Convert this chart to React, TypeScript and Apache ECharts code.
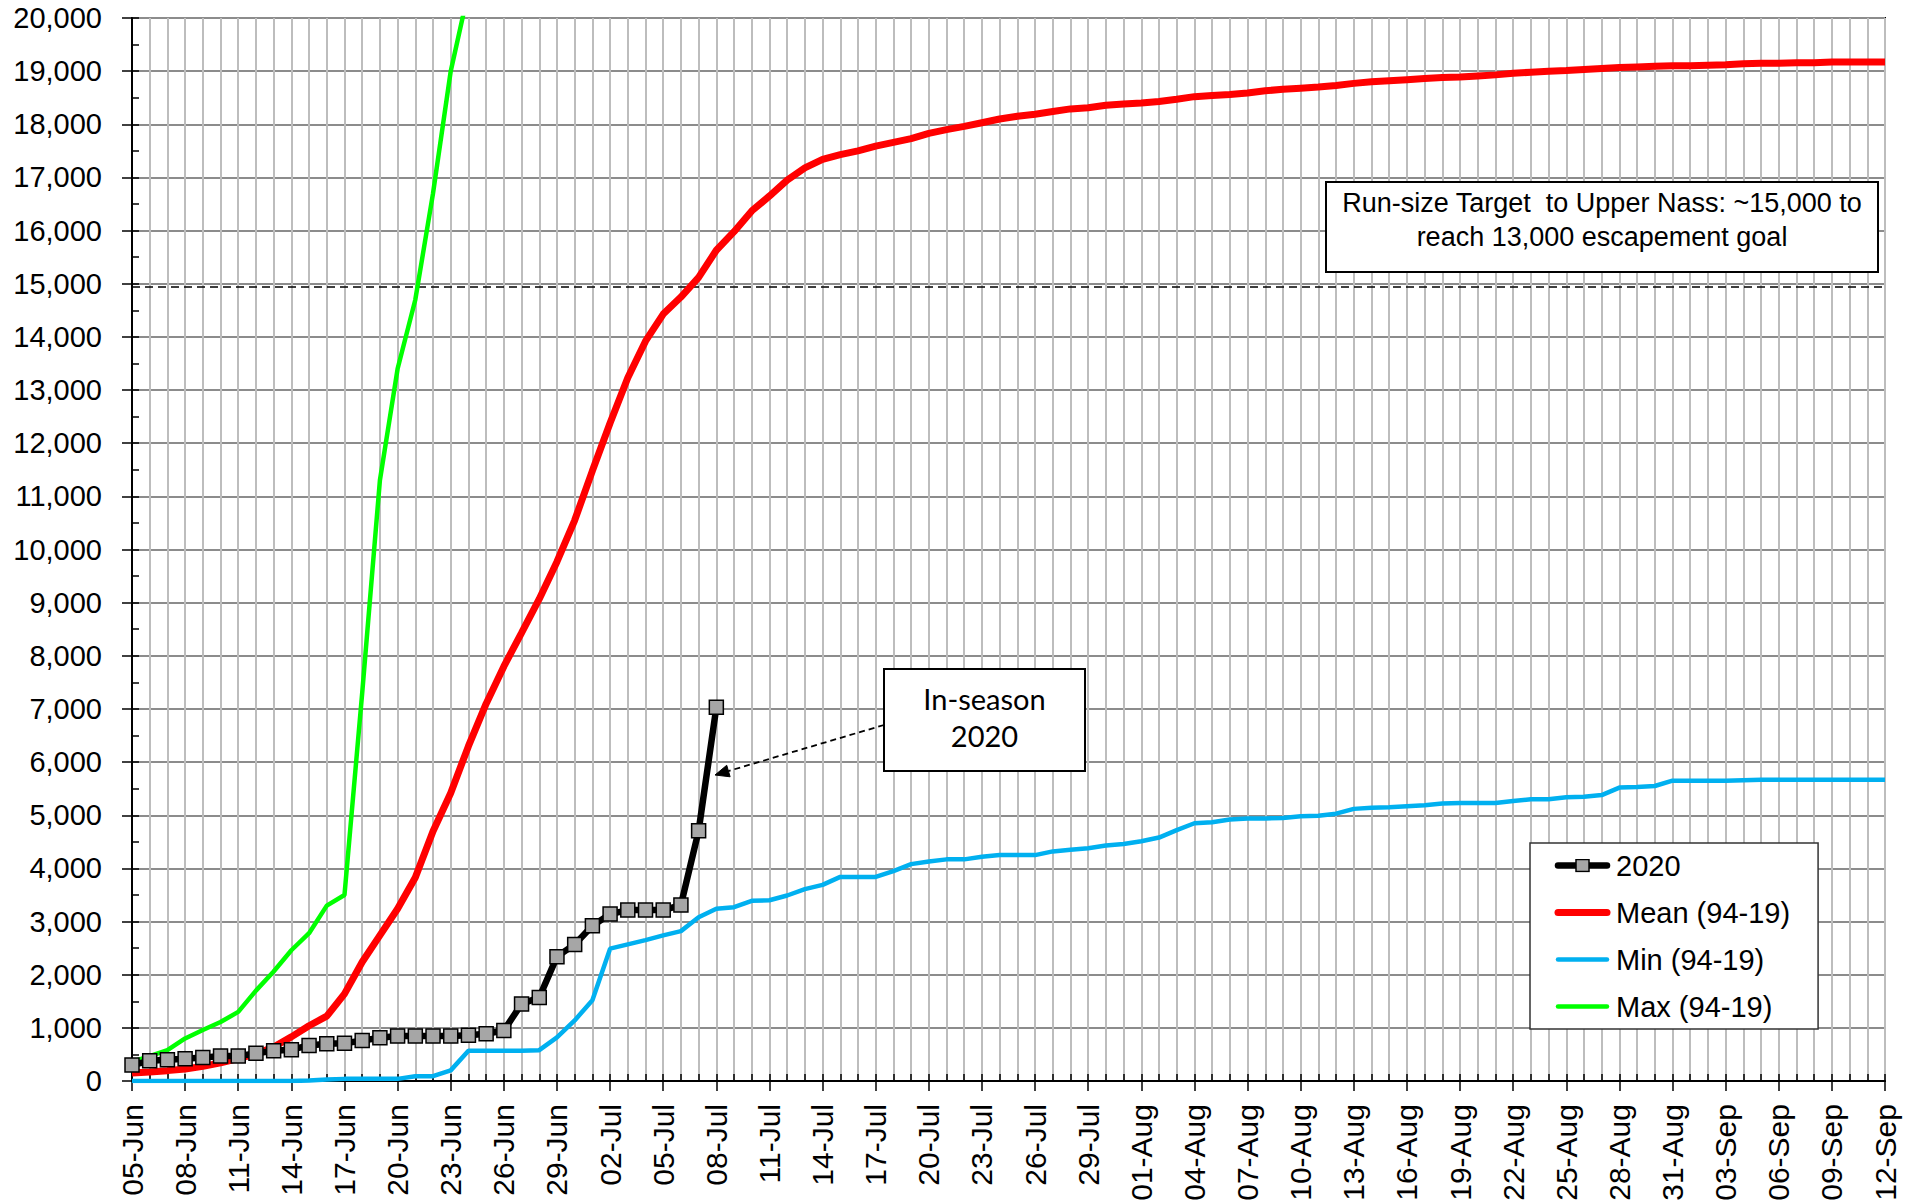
import React, { useEffect, useRef } from "react";
import * as echarts from "echarts";

const dates = [
  "05-Jun","06-Jun","07-Jun","08-Jun","09-Jun","10-Jun","11-Jun","12-Jun","13-Jun","14-Jun",
  "15-Jun","16-Jun","17-Jun","18-Jun","19-Jun","20-Jun","21-Jun","22-Jun","23-Jun","24-Jun",
  "25-Jun","26-Jun","27-Jun","28-Jun","29-Jun","30-Jun",
  "01-Jul","02-Jul","03-Jul","04-Jul","05-Jul","06-Jul","07-Jul","08-Jul","09-Jul","10-Jul",
  "11-Jul","12-Jul","13-Jul","14-Jul","15-Jul","16-Jul","17-Jul","18-Jul","19-Jul","20-Jul",
  "21-Jul","22-Jul","23-Jul","24-Jul","25-Jul","26-Jul","27-Jul","28-Jul","29-Jul","30-Jul","31-Jul",
  "01-Aug","02-Aug","03-Aug","04-Aug","05-Aug","06-Aug","07-Aug","08-Aug","09-Aug","10-Aug",
  "11-Aug","12-Aug","13-Aug","14-Aug","15-Aug","16-Aug","17-Aug","18-Aug","19-Aug","20-Aug",
  "21-Aug","22-Aug","23-Aug","24-Aug","25-Aug","26-Aug","27-Aug","28-Aug","29-Aug","30-Aug","31-Aug",
  "01-Sep","02-Sep","03-Sep","04-Sep","05-Sep","06-Sep","07-Sep","08-Sep","09-Sep","10-Sep",
  "11-Sep","12-Sep"
];

const season2020 = [
  300, 380, 400, 420, 440, 470, 470, 520, 570, 590,
  670, 700, 710, 760, 815, 845, 845, 845, 845, 860,
  890, 950, 1450, 1570, 2340, 2570, 2920, 3140, 3215, 3215,
  3215, 3310, 4710, 7030
];

const mean9419 = [
  150, 170, 195, 225, 275, 340, 420, 510, 640, 830,
  1040, 1220, 1640, 2240, 2740, 3240, 3830, 4700, 5420, 6300,
  7100, 7800, 8430, 9070, 9770, 10550, 11480, 12380, 13230, 13920,
  14430, 14750, 15120, 15630, 15980, 16370, 16650, 16950, 17180, 17340,
  17430, 17500, 17590, 17660, 17730, 17830, 17900, 17960, 18030, 18100,
  18150, 18190, 18240, 18290, 18310, 18360, 18380, 18400, 18430, 18470,
  18520, 18540, 18560, 18590, 18630, 18660, 18680, 18700, 18730, 18770,
  18800, 18820, 18840, 18860, 18880, 18890, 18910, 18930, 18960, 18980,
  19000, 19010, 19030, 19050, 19070, 19080, 19090, 19100, 19100, 19110,
  19120, 19140, 19150, 19150, 19160, 19160, 19170, 19170, 19170, 19170
];

const min9419 = [
  0, 0, 0, 0, 0, 0, 0, 0, 0, 0,
  10, 30, 40, 40, 40, 40, 90, 90, 200, 570,
  570, 570, 570, 580, 820, 1140, 1520, 2490, 2570, 2650,
  2740, 2820, 3080, 3240, 3270, 3390, 3400, 3490, 3610, 3690,
  3840, 3840, 3840, 3950, 4080, 4130, 4170, 4170, 4220, 4250,
  4250, 4250, 4320, 4350, 4380, 4430, 4460, 4510, 4580, 4720,
  4850, 4870, 4920, 4940, 4940, 4950, 4980, 4990, 5030, 5120,
  5140, 5150, 5170, 5190, 5220, 5230, 5230, 5230, 5270, 5300,
  5300, 5340, 5350, 5380, 5520, 5530, 5550, 5650, 5650, 5650,
  5650, 5660, 5670, 5670, 5670, 5670, 5670, 5670, 5670, 5670
];

const max9419 = [
  360, 470, 580, 800, 960, 1110, 1300, 1700, 2060, 2460,
  2780, 3300, 3500, 7300, 11300, 13400, 14700, 16700, 19000, 20500
];

const seriesNames = ["2020", "Mean (94-19)", "Min (94-19)", "Max (94-19)"];
const seriesColors = ["#000000", "#ff0000", "#00b0f0", "#00ff00"];
const seriesWidths = [6.5, 7, 4.5, 4.5];
const targetLine = 14950;
const yMin = 0;
const yMax = 20000;
const yStep = 1000;
const yMinorStep = 500;

const FONT = '"Liberation Sans", Arial, sans-serif';

const W = 1923;
const H = 1204;
const G_LEFT = 132;
const G_RIGHT = 38;
const G_TOP = 18;
const G_BOTTOM = 123;
const GW = W - G_LEFT - G_RIGHT;
const GH = H - G_TOP - G_BOTTOM;

function legendIcon(idx: number): string {
  const c = seriesColors[idx];
  const w = seriesWidths[idx];
  let svg =
    "<svg xmlns='http://www.w3.org/2000/svg' width='57' height='14' viewBox='0 0 57 14'>" +
    "<line x1='4' y1='7' x2='53' y2='7' stroke='" + c + "' stroke-width='" + w + "' stroke-linecap='round'/>";
  if (idx === 0) {
    svg += "<rect x='22' y='1' width='13' height='12' fill='#a6a6a6' stroke='#000' stroke-width='1.5'/>";
  }
  svg += "</svg>";
  return "image://data:image/svg+xml;charset=utf-8," + encodeURIComponent(svg);
}

export default function App() {
  const ref = useRef<HTMLDivElement>(null);

  useEffect(() => {
    if (!ref.current) return;
    const chart = echarts.init(ref.current, undefined, { renderer: "svg" });

    const tip = [715, 775];
    const start = [884, 725];
    const dx = tip[0] - start[0];
    const dy = tip[1] - start[1];
    const len = Math.sqrt(dx * dx + dy * dy);
    const ux = dx / len;
    const uy = dy / len;
    const hl = 14;
    const hw = 6;
    const bx = tip[0] - ux * hl;
    const by = tip[1] - uy * hl;

    const option: any = {
      animation: false,
      backgroundColor: "#ffffff",
      grid: {
        left: G_LEFT,
        right: G_RIGHT,
        top: G_TOP,
        bottom: G_BOTTOM,
        show: true,
        borderColor: "#000",
        borderWidth: 2,
        backgroundColor: "transparent",
      },
      legend: {
        data: seriesNames.map((n, i) => ({ name: n, icon: legendIcon(i) })),
        orient: "vertical",
        left: 1530,
        top: 843,
        padding: [8, 28, 8, 24],
        itemWidth: 57,
        itemHeight: 14,
        itemGap: 18,
        backgroundColor: "#ffffff",
        borderColor: "#333",
        borderWidth: 1.5,
        borderRadius: 0,
        selectedMode: false,
        textStyle: { fontSize: 29, color: "#000", fontFamily: FONT },
      },
      xAxis: [
        {
          type: "category",
          data: dates,
          boundaryGap: false,
          position: "bottom",
          axisLine: { show: true, lineStyle: { color: "#000", width: 2 } },
          axisTick: { show: true, interval: 2, length: 10, lineStyle: { color: "#000", width: 1.5 } },
          axisLabel: {
            interval: 2,
            rotate: 90,
            margin: 23,
            fontSize: 30,
            color: "#000",
            fontFamily: FONT,
          },
          splitLine: { show: true, interval: 0, lineStyle: { color: "#bdbdbd", width: 2 } },
        },
        {
          type: "category",
          data: dates,
          boundaryGap: false,
          position: "top",
          offset: -GH,
          axisLine: { show: false, onZero: false },
          axisTick: { show: true, interval: 0, length: 7, lineStyle: { color: "#000", width: 1.5 } },
          axisLabel: { show: false },
          splitLine: { show: false },
        },
      ],
      yAxis: [
        {
          type: "value",
          min: yMin,
          max: yMax,
          interval: yStep,
          position: "left",
          axisLine: { show: true, lineStyle: { color: "#000", width: 2 } },
          axisTick: { show: true, length: 10, lineStyle: { color: "#000", width: 1.5 } },
          axisLabel: {
            margin: 30,
            fontSize: 29,
            color: "#000",
            fontFamily: FONT,
            formatter: (v: number) => v.toLocaleString("en-US"),
          },
          splitLine: { show: true, lineStyle: { color: "#8c8c8c", width: 2 } },
        },
        {
          type: "value",
          min: yMin,
          max: yMax,
          interval: yMinorStep,
          position: "right",
          offset: -GW,
          axisLine: { show: false, onZero: false },
          axisTick: { show: true, length: 7, lineStyle: { color: "#000", width: 1.5 } },
          axisLabel: { show: false },
          splitLine: { show: false },
        },
      ],
      series: [
        {
          name: seriesNames[0],
          type: "line",
          data: season2020,
          xAxisIndex: 0,
          yAxisIndex: 0,
          symbol: "rect",
          symbolSize: 14,
          showSymbol: true,
          showAllSymbol: true,
          lineStyle: { color: seriesColors[0], width: seriesWidths[0] },
          itemStyle: { color: "#a6a6a6", borderColor: "#000", borderWidth: 1.5 },
          z: 8,
        },
        {
          name: seriesNames[1],
          type: "line",
          data: mean9419,
          xAxisIndex: 0,
          yAxisIndex: 0,
          symbol: "none",
          showSymbol: false,
          lineStyle: { color: seriesColors[1], width: seriesWidths[1] },
          itemStyle: { color: seriesColors[1] },
          z: 7,
          markLine: {
            silent: true,
            symbol: ["none", "none"],
            label: { show: false },
            lineStyle: { color: "#000", type: [8, 5], width: 1.5 },
            data: [{ yAxis: targetLine }],
          },
        },
        {
          name: seriesNames[2],
          type: "line",
          data: min9419,
          xAxisIndex: 0,
          yAxisIndex: 0,
          symbol: "none",
          showSymbol: false,
          lineStyle: { color: seriesColors[2], width: seriesWidths[2] },
          itemStyle: { color: seriesColors[2] },
          z: 5,
        },
        {
          name: seriesNames[3],
          type: "line",
          data: max9419,
          xAxisIndex: 0,
          yAxisIndex: 0,
          symbol: "none",
          showSymbol: false,
          lineStyle: { color: seriesColors[3], width: seriesWidths[3] },
          itemStyle: { color: seriesColors[3] },
          z: 6,
        },
      ],
      graphic: [
        {
          type: "rect",
          z: 100,
          shape: { x: 1326, y: 182, width: 552, height: 90 },
          style: { fill: "#ffffff", stroke: "#000", lineWidth: 2 },
        },
        {
          type: "text",
          z: 101,
          x: 1602,
          y: 186,
          style: {
            text: "Run-size Target  to Upper Nass: ~15,000 to\nreach 13,000 escapement goal",
            fontSize: 27,
            fontFamily: FONT,
            fill: "#000",
            align: "center",
            verticalAlign: "top",
            lineHeight: 34,
          },
        },
        {
          type: "rect",
          z: 100,
          shape: { x: 884, y: 669, width: 201, height: 102 },
          style: { fill: "#ffffff", stroke: "#000", lineWidth: 2 },
        },
        {
          type: "text",
          z: 101,
          x: 984.5,
          y: 680,
          style: {
            text: "In-season\n2020",
            fontSize: 29,
            fontFamily: "Lato, 'Open Sans', sans-serif",
            fill: "#000",
            align: "center",
            verticalAlign: "top",
            lineHeight: 37,
          },
        },
        {
          type: "line",
          z: 100,
          shape: { x1: start[0], y1: start[1], x2: bx, y2: by },
          style: { stroke: "#000", lineWidth: 1.8, lineDash: [6, 4] },
        },
        {
          type: "polygon",
          z: 100,
          shape: {
            points: [
              [tip[0], tip[1]],
              [bx - uy * hw, by + ux * hw],
              [bx + uy * hw, by - ux * hw],
            ],
          },
          style: { fill: "#000", stroke: "#000", lineWidth: 1 },
        },
      ],
    };

    chart.setOption(option);
    return () => {
      chart.dispose();
    };
  }, []);

  return (
    <div
      ref={ref}
      style={{
        position: "fixed",
        left: 0,
        top: 0,
        width: W,
        height: H,
        background: "#ffffff",
      }}
    />
  );
}
